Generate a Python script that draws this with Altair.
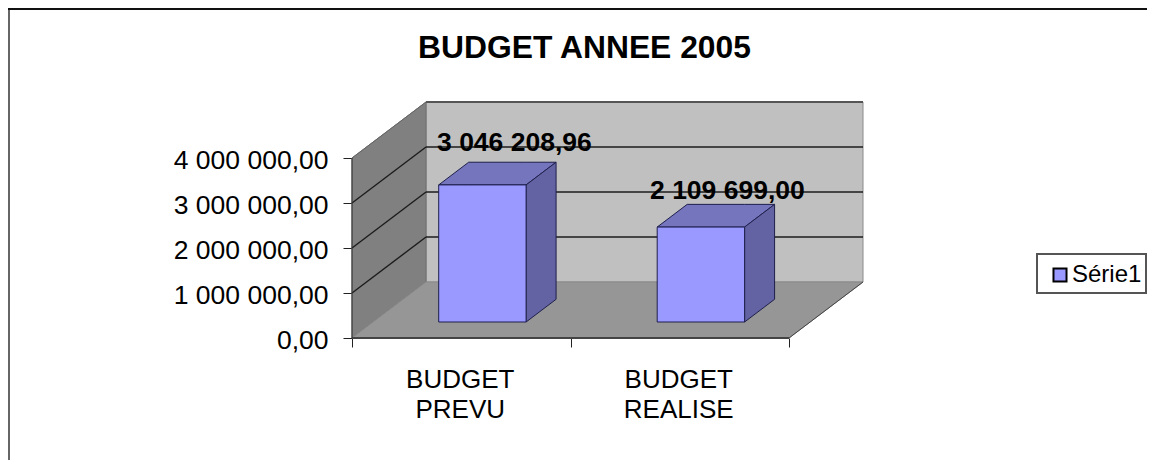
import altair as alt
import pandas as pd

categories = ["BUDGET\nPREVU", "BUDGET\nREALISE"]
values = [3046208.96, 2109699.00]
value_labels = ["3 046 208,96", "2 109 699,00"]
y_ticks = [0, 1000000, 2000000, 3000000, 4000000]
series_name = "Série1"

FONT = "Liberation Sans"
PX_X, PX_Y = 218.5, 45 / 1e6     # scale factors
W, H = 511, 238
DX, DY = 74 / PX_X, 56 / PX_Y    # depth vector of the oblique projection
N = len(categories)
BAR_HALF = 0.2
D0, D1 = 0.2857, 0.691

label_expr = "replace(replace(format(datum.value, ',.2f'), /,/g, ' '), '.', ',')"
x_axis = alt.Axis(values=list(range(N + 1)), labels=False, title=None, domain=False,
                  grid=False, tickSize=9, tickColor="#222222", orient="bottom")
y_axis = alt.Axis(values=y_ticks, labelExpr=label_expr, title=None, domain=False,
                  grid=False, tickSize=9, tickColor="#222222", labelFont=FONT, orient="left",
                  labelFontSize=26.5, labelColor="#000000", labelPadding=15, labelOffset=2)
xs = alt.Scale(domain=[0, W / PX_X], nice=False, zero=False)
ys = alt.Scale(domain=[0, H / PX_Y], nice=False, zero=False)
X = alt.X("x:Q", scale=xs, axis=x_axis)
Y = alt.Y("y:Q", scale=ys, axis=y_axis)
X2 = alt.X2("x2:Q")
Y2 = alt.Y2("y2:Q")


def band(rows, color, stroke=None, sw=1):
    """rows: (x, y_low, y_high) -> a filled face"""
    df = pd.DataFrame(rows, columns=["x", "y", "y2"])
    kw = dict(color=color, opacity=1)
    if stroke:
        kw.update(stroke=stroke, strokeWidth=sw)
    return alt.Chart(df).mark_area(**kw).encode(X, Y, Y2)


def segs(rows, color, sw=1, **mk):
    df = pd.DataFrame(rows, columns=["x", "y", "x2", "y2"])
    return alt.Chart(df).mark_rule(color=color, strokeWidth=sw, **mk).encode(X, Y, X2, Y2)


top_v = y_ticks[-1]
layers = []

# back wall
layers.append(band([(DX, DY, top_v + DY), (DX + N, DY, top_v + DY)], "#C0C0C0", "#8a8a8a"))
# side wall
layers.append(band([(0, 0, top_v), (DX, DY, top_v + DY)], "#808080", "#6f6f6f"))
# floor
layers.append(band([(0, 0, 0), (DX, 0, DY), (N, 0, DY), (N + DX, DY, DY)], "#969696", "#8a8a8a"))
# grid
grid = []
for v in y_ticks[1:-1]:
    grid.append((0, v, DX, v + DY))
    grid.append((DX, v + DY, DX + N, v + DY))
layers.append(segs(grid, "#1c1c1c", 1.4))
layers.append(segs([(DX, top_v + DY, DX + N, top_v + DY)], "#555555", 2))
layers.append(segs([(0, top_v, DX, top_v + DY)], "#666666", 1))
layers.append(segs([(N, 0, N + DX, DY)], "#444444", 1))
layers.append(segs([(0, 0, N, 0)], "#444444", 2))
layers.append(segs([(0, 0, 0, top_v)], "#333333", 1))

# bars
for i, v in enumerate(values):
    l, r = i + 0.5 - BAR_HALF, i + 0.5 + BAR_HALF
    b0, b1 = D0 * DY, D1 * DY
    x0, x1 = D0 * DX, D1 * DX
    top = v + b0
    top_back = v + b1
    edge = "#1f1f4d"
    # top face
    layers.append(band([(l + x0, top, top), (l + x1, top, top_back), (r + x0, top, top_back),
                        (r + x1, top_back, top_back)], "#7575BE", edge))
    # side face
    layers.append(band([(r + x0, b0, top), (r + x1, b1, top_back)], "#6363A3", edge))

# legend frame
frame_df = pd.DataFrame({"a": [0]})
layers.append(alt.Chart(frame_df).mark_rect(fill="#FFFFFF", stroke="#555555", strokeWidth=2).encode(
    x=alt.value(685), x2=alt.value(794), y=alt.value(154), y2=alt.value(193)))

bar_df = pd.DataFrame({
    "x": [i + 0.5 - BAR_HALF + D0 * DX for i in range(N)],
    "x2": [i + 0.5 + BAR_HALF + D0 * DX for i in range(N)],
    "y": [D0 * DY] * N,
    "y2": [v + D0 * DY for v in values],
    "series": [series_name] * N,
})
layers.append(
    alt.Chart(bar_df).mark_rect(stroke="#1f1f4d", strokeWidth=1).encode(
        X, X2, Y, Y2,
        color=alt.Color("series:N", scale=alt.Scale(domain=[series_name], range=["#9999FF"]),
                        legend=alt.Legend(orient="none", legendX=692, legendY=159, title=None,
                                          symbolType="square", symbolSize=170, symbolStrokeColor="#000000",
                                          symbolStrokeWidth=2, labelFont=FONT, labelFontSize=24,
                                          labelColor="#000000", padding=4, labelOffset=0)),
    )
)

# value labels
offsets = [(32, -34), (26.5, -28)]
for i, (v, t) in enumerate(zip(values, value_labels)):
    df = pd.DataFrame({"x": [i + 0.5 + D0 * DX], "y": [v + D0 * DY], "t": [t]})
    layers.append(
        alt.Chart(df).mark_text(font=FONT, fontSize=26.5, fontWeight="bold", color="#000000",
                                dx=offsets[i][0], dy=offsets[i][1], baseline="alphabetic", align="center")
        .encode(X, Y, text="t:N")
    )

# category labels
cat_df = pd.DataFrame({"x": [i + 0.5 for i in range(N)], "y": [0] * N, "t": categories})
layers.append(
    alt.Chart(cat_df).mark_text(font=FONT, fontSize=26, color="#000000", lineBreak="\n", lineHeight=30,
                                dx=-1, dy=50, baseline="alphabetic", align="center")
    .encode(X, Y, text="t:N")
)

# outer frame
layers.append(alt.Chart(frame_df).mark_rule(color="#666666", strokeWidth=2).encode(
    x=alt.value(-343), y=alt.value(-92), y2=alt.value(360)))
layers.append(alt.Chart(frame_df).mark_rule(color="#111111", strokeWidth=2).encode(
    x=alt.value(-344), x2=alt.value(795), y=alt.value(-91)))

chart = (
    alt.layer(*layers)
    .properties(
        width=W, height=H,
        title=alt.TitleParams("BUDGET ANNEE 2005", font=FONT, fontSize=31.8, fontWeight="bold", color="#000000",
                              anchor="middle", dx=-23, offset=-58),
        autosize=alt.AutoSizeParams(type="none"),
        padding={"left": 344, "top": 92, "right": 284, "bottom": 122},
    )
    .configure_view(stroke=None)
)
chart.save("out.html", embed_options={"renderer": "svg", "actions": False})
